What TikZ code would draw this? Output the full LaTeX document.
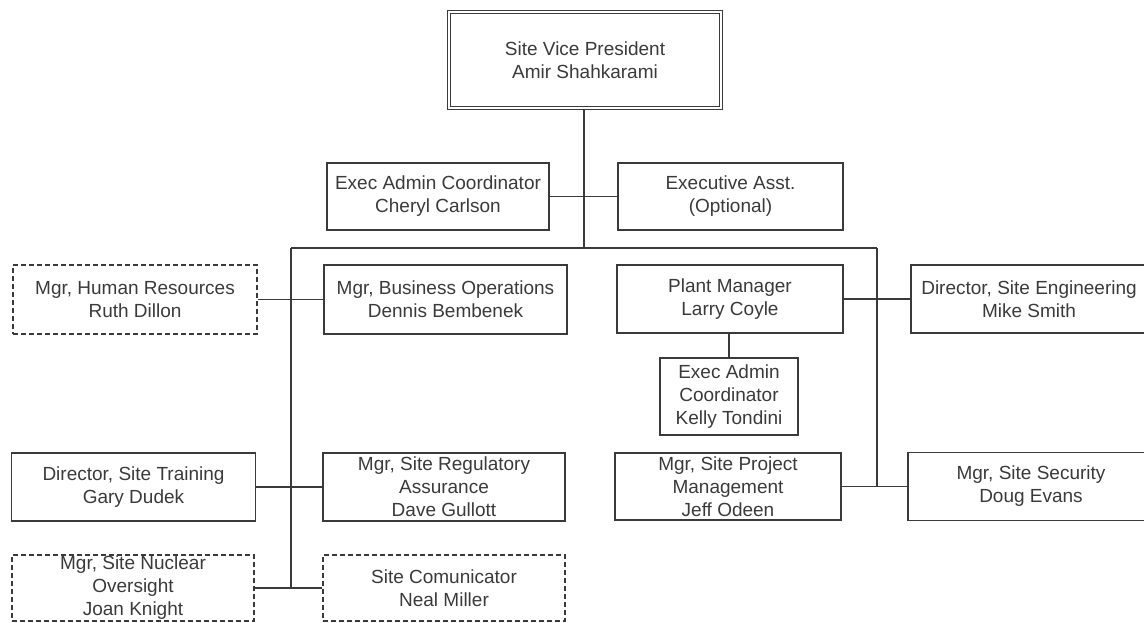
\documentclass[tikz,border=0pt]{standalone}
\usepackage{fontspec}
\setmainfont{Liberation Sans}
\definecolor{ink}{RGB}{58,58,58}

\tikzset{every picture/.style={line width=1.4pt}}
\tikzset{
  post/.style={draw=ink, text=ink, align=center, inner sep=0pt,
    font=\fontsize{19pt}{23pt}\selectfont},
  optpost/.style={post, dash pattern={on 5pt off 3pt}},
  headpost/.style={post, line width=1.3pt, double=white, double distance=1.6pt},
  link/.style={draw=ink, line width=1.3pt}
}

\begin{document}
\begin{tikzpicture}[x=1pt,y=1pt,yscale=-1,xscale=1]
	\path[use as bounding box] (0,0) rectangle (1144,623);
	\clip (0,0) rectangle (1144,623);

	%Head box
	\node[headpost, minimum width=272, minimum height=96] (vp) at (585,60) {Site Vice President\\Amir Shahkarami};

	%Staff of the site VP
	\node[post, minimum width=222, minimum height=67] (eac) at (438,196.5) {Exec Admin Coordinator\\Cheryl Carlson};
	\node[post, minimum width=225, minimum height=67] (asst) at (730.5,196.5) {Executive Asst.\\(Optional)};

	%Upper row
	\node[optpost, minimum width=244, minimum height=69] (hr) at (135,299.5) {Mgr, Human Resources\\Ruth Dillon};
	\node[post, minimum width=243, minimum height=69] (busops) at (445.5,299.5) {Mgr, Business Operations\\Dennis Bembenek};
	\node[post, minimum width=226, minimum height=68] (plant) at (730,299) {Plant Manager\\Larry Coyle};
	\node[post, minimum width=236, minimum height=68] (eng) at (1029,299) {Director, Site Engineering\\Mike Smith};
	\node[post, minimum width=138, minimum height=77] (kelly) at (729,396.5) {Exec Admin\\Coordinator\\Kelly Tondini};

	%Middle row
	\node[post, minimum width=244, minimum height=68] (train) at (133.5,487) {Director, Site Training\\Gary Dudek};
	\node[post, minimum width=242, minimum height=68] (reg) at (444,487) {Mgr, Site Regulatory\\Assurance\\Dave Gullott};
	\node[post, minimum width=226, minimum height=67] (proj) at (728,486.5) {Mgr, Site Project\\Management\\Jeff Odeen};
	\node[post, minimum width=246, minimum height=68] (sec) at (1031,486.5) {Mgr, Site Security\\Doug Evans};

	%Lower row
	\node[optpost, minimum width=242, minimum height=66] (nuc) at (133,588) {Mgr, Site Nuclear\\Oversight\\Joan Knight};
	\node[optpost, minimum width=242, minimum height=66] (comm) at (444,588) {Site Comunicator\\Neal Miller};

	%Bus and trunks
	\coordinate (busmid) at (584,248);
	\coordinate (busl) at (291,248);
	\coordinate (busr) at (877,248);
	\coordinate (trunkl) at (291,588);
	\coordinate (trunkr) at (877,486.5);

	\draw[link] (vp.south -| busmid) -- (busmid);
	\draw[link] (busl) -- (busr);
	\draw[link] (busl) -- (trunkl);
	\draw[link] (busr) -- (trunkr);

	%Side links
	\draw[link] (eac.east) -- (asst.west);
	\draw[link] (hr.east) -- (busops.west);
	\draw[link] (plant.east) -- (eng.west);
	\draw[link] (plant.south -| kelly.north) -- (kelly.north);
	\draw[link] (train.east) -- (reg.west);
	\draw[link] (proj.east) -- (sec.west);
	\draw[link] (nuc.east) -- (comm.west);

\end{tikzpicture}
\end{document}
